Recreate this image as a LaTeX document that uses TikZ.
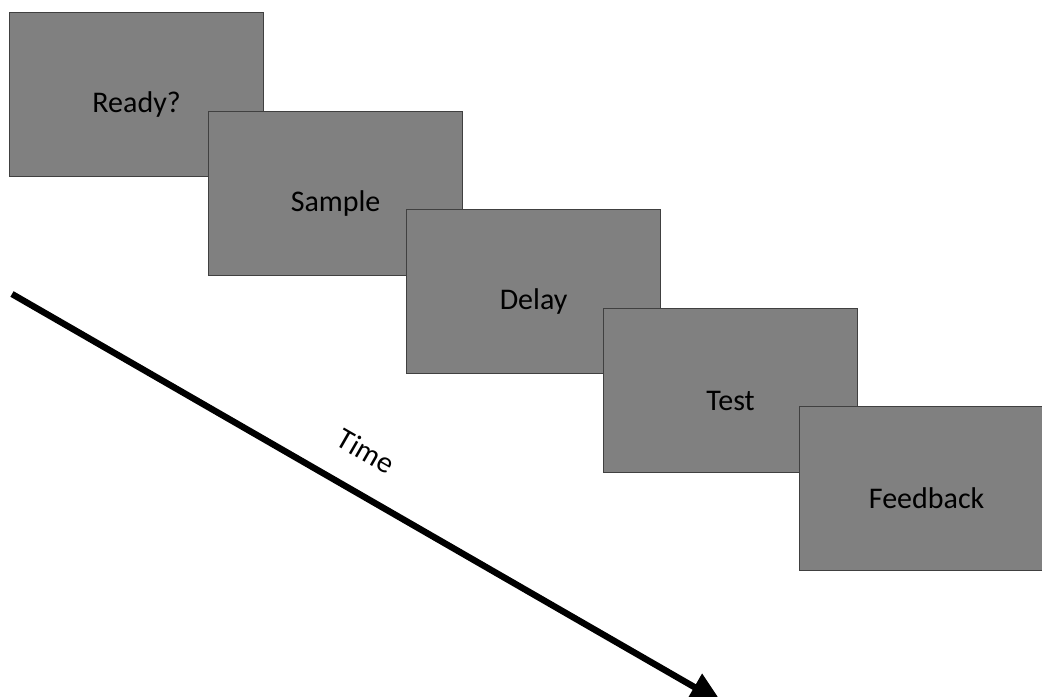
\documentclass[tikz,border=0pt]{standalone}
\usepackage{fontspec}
\setmainfont{Carlito}
\usetikzlibrary{arrows.meta}
\begin{document}
\begin{tikzpicture}[x=0.75pt,y=-0.75pt,
  screen/.style={draw=black!75, line width=0.9pt, fill=black!50,
    minimum width=190.5pt, minimum height=123pt, inner sep=0pt,
    anchor=north west},
  screentext/.style={font=\fontsize{22.5}{26}\selectfont, text=black},
  timeline/.style={line width=4.8pt,
    -{Triangle[length=24pt,width=22pt]}}]
\useasboundingbox (0,0) rectangle (1042,696);
\clip (0,0) rectangle (1042,696);
\foreach \n/\x/\y/\t in {r/9/12/Ready?, s/208/111/Sample, d/406/209/Delay, t/603/308/Test, f/799/406/Feedback}{
  \node[screen] (\n) at (\x,\y) {};
  \node[screentext] (\n-label) at ([yshift=-7.5pt]\n.center) {\t};
}
\coordinate (start) at (12,294);
\coordinate (end) at (722,703);
\draw[timeline] (start) -- (end);
\node[screentext, rotate=-30] (time) at (366,451) {Time};
\end{tikzpicture}
\end{document}
